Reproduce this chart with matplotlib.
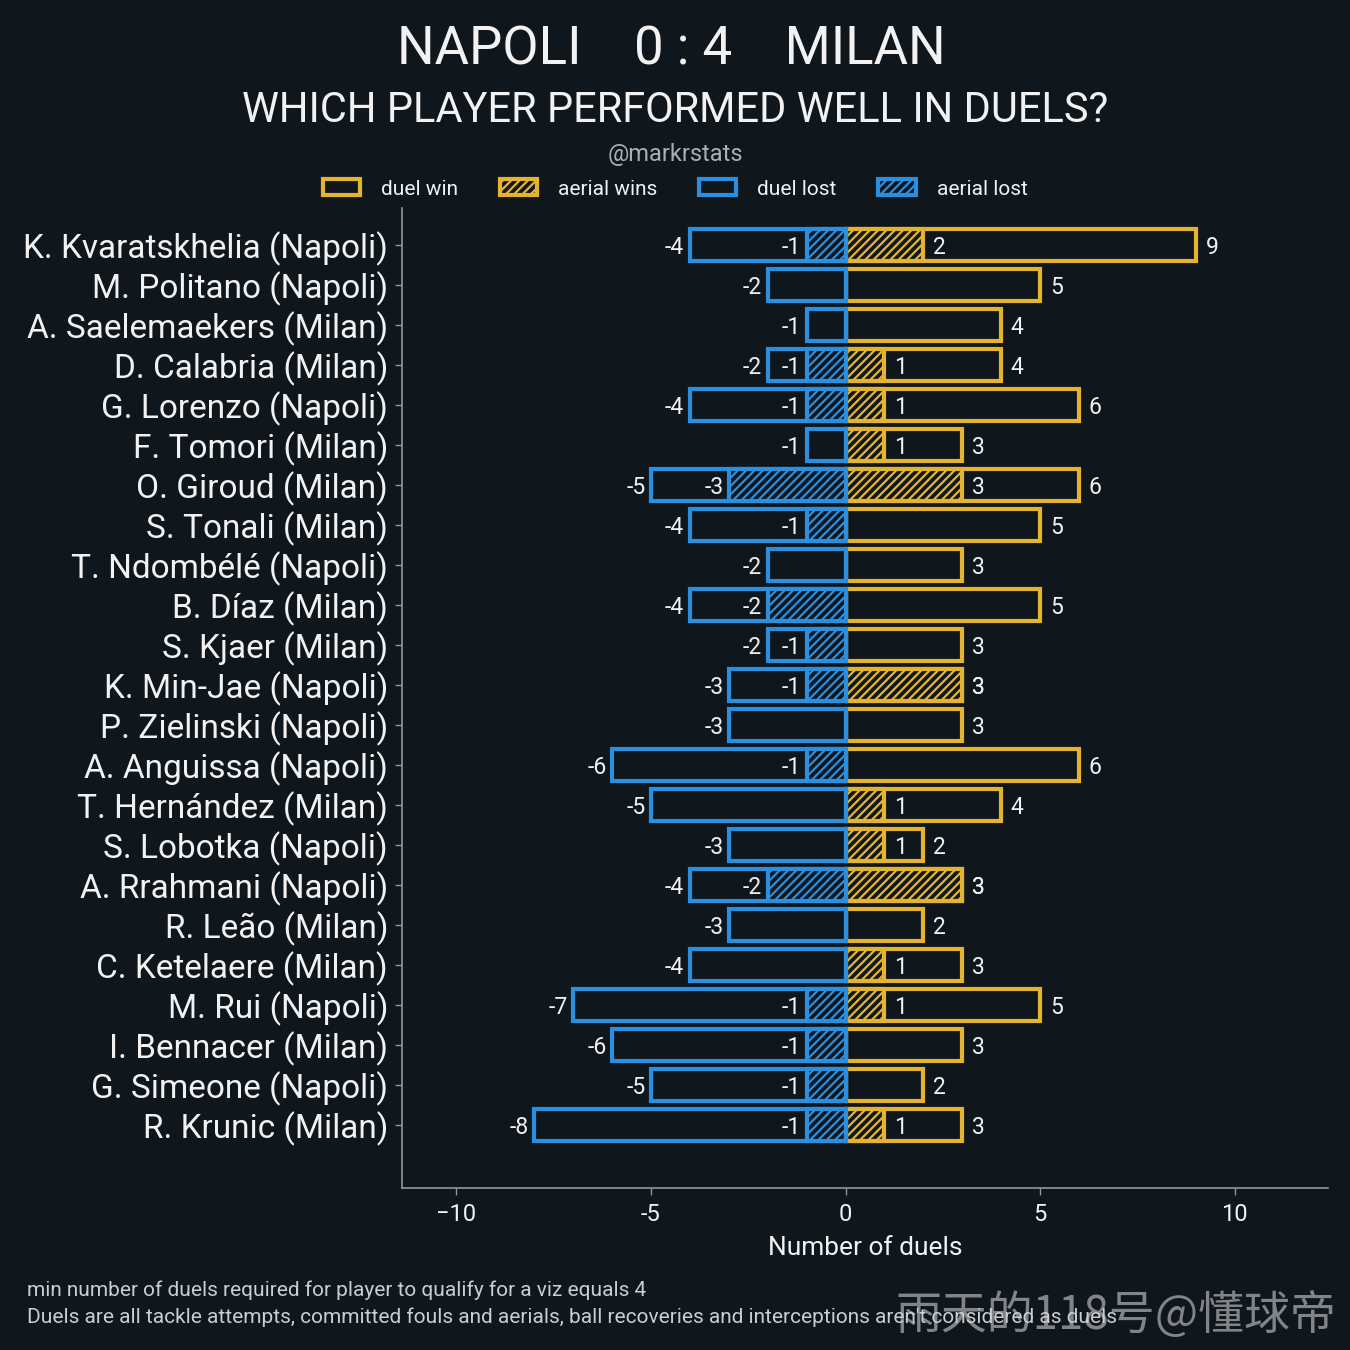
import numpy as np
import matplotlib.pyplot as plt
from matplotlib.patches import Patch

# datos (de arriba hacia abajo)
players = ["K. Kvaratskhelia (Napoli)", "M. Politano (Napoli)", "A. Saelemaekers (Milan)",
           "D. Calabria (Milan)", "G. Lorenzo (Napoli)", "F. Tomori (Milan)",
           "O. Giroud (Milan)", "S. Tonali (Milan)", "T. Ndombélé (Napoli)",
           "B. Díaz (Milan)", "S. Kjaer (Milan)", "K. Min-Jae (Napoli)",
           "P. Zielinski (Napoli)", "A. Anguissa (Napoli)", "T. Hernández (Milan)",
           "S. Lobotka (Napoli)", "A. Rrahmani (Napoli)", "R. Leão (Milan)",
           "C. Ketelaere (Milan)", "M. Rui (Napoli)", "I. Bennacer (Milan)",
           "G. Simeone (Napoli)", "R. Krunic (Milan)"]
duel_win = [9, 5, 4, 4, 6, 3, 6, 5, 3, 5, 3, 3, 3, 6, 4, 2, 3, 2, 3, 5, 3, 2, 3]
aerial_win = [2, 0, 0, 1, 1, 1, 3, 0, 0, 0, 0, 3, 0, 0, 1, 1, 3, 0, 1, 1, 0, 0, 1]
duel_lost = [-4, -2, -1, -2, -4, -1, -5, -4, -2, -4, -2, -3, -3, -6, -5, -3, -4, -3, -4, -7, -6, -5, -8]
aerial_lost = [-1, 0, 0, -1, -1, 0, -3, -1, 0, -2, -1, -1, 0, -1, 0, 0, -2, 0, 0, -1, -1, -1, -1]

BG = '#0f161c'
GOLD = '#e4b430'
BLUE = '#2b8fdf'
GREY = '#8c9aa0'
TXT = '#f2f2f2'

plt.rcParams['font.family'] = ['Roboto', 'DejaVu Sans']
plt.rcParams['hatch.linewidth'] = 1.6

fig = plt.figure(figsize=(13.5, 13.5), dpi=100, facecolor=BG)
ax = fig.add_axes([402 / 1350, 1 - 1188 / 1350, (1328 - 402) / 1350, (1188 - 208) / 1350])
ax.set_facecolor(BG)

n = len(players)
y = np.arange(n)[::-1]
h = 0.8
lw = 3

ax.barh(y, duel_win, height=h, color=BG, edgecolor=GOLD, linewidth=lw)
ax.barh(y, aerial_win, height=h, color=BG, edgecolor=GOLD, linewidth=lw, hatch='////')
ax.barh(y, duel_lost, height=h, color=BG, edgecolor=BLUE, linewidth=lw)
ax.barh(y, aerial_lost, height=h, color=BG, edgecolor=BLUE, linewidth=lw, hatch='////')

fs_val = 16.5
for yi, dw, aw, dl, al in zip(y, duel_win, aerial_win, duel_lost, aerial_lost):
    ax.annotate(str(dw), (dw, yi), xytext=(7, 0), textcoords='offset points',
                ha='left', va='center_baseline', color=TXT, fontsize=fs_val)
    ax.annotate(str(dl), (dl, yi), xytext=(-4, 0), textcoords='offset points',
                ha='right', va='center_baseline', color=TXT, fontsize=fs_val)
    if aw != 0:
        ax.annotate(str(aw), (aw, yi), xytext=(7, 0), textcoords='offset points',
                    ha='left', va='center_baseline', color=TXT, fontsize=fs_val)
    if al != 0:
        ax.annotate(str(al), (al, yi), xytext=(-4, 0), textcoords='offset points',
                    ha='right', va='center_baseline', color=TXT, fontsize=fs_val)

ax.set_xlim(-11.4, 12.4)
ax.set_ylim(-1.575, n - 1 + 0.925)
ax.set_yticks(y)
ax.set_yticklabels(players, fontsize=24, color=TXT)
ax.set_xticks([-10, -5, 0, 5, 10])
ax.set_xticklabels(['\u221210', '-5', '0', '5', '10'], fontsize=17, color=TXT)
ax.tick_params(axis='both', colors=GREY, length=5, width=1)
ax.tick_params(axis='y', pad=5)
ax.tick_params(axis='x', pad=6)
for lab in ax.get_xticklabels() + ax.get_yticklabels():
    lab.set_color(TXT)
ax.set_xlabel('Number of duels', fontsize=19, color=TXT, labelpad=7)

for s in ['top', 'right']:
    ax.spines[s].set_visible(False)
for s in ['left', 'bottom']:
    ax.spines[s].set_color(GREY)
    ax.spines[s].set_linewidth(1.2)

# titulos
fig.text(0.497, 1 - 50 / 1350, 'NAPOLI    0 : 4    MILAN', ha='center', va='center',
         fontsize=38, color=TXT)
fig.text(0.5, 1 - 110 / 1350, 'WHICH PLAYER PERFORMED WELL IN DUELS?', ha='center',
         va='center', fontsize=30, color=TXT)
fig.text(0.5, 1 - 154 / 1350, '@markrstats', ha='center', va='center',
         fontsize=17, color='#a9b0b5')

handles = [Patch(facecolor=BG, edgecolor=GOLD, linewidth=lw, label='duel win'),
           Patch(facecolor=BG, edgecolor=GOLD, linewidth=lw, hatch='////', label='aerial wins'),
           Patch(facecolor=BG, edgecolor=BLUE, linewidth=lw, label='duel lost'),
           Patch(facecolor=BG, edgecolor=BLUE, linewidth=lw, hatch='////', label='aerial lost')]
leg = fig.legend(handles=handles, loc='center', bbox_to_anchor=(0.5, 1 - 189 / 1350),
                 ncol=4, frameon=False, fontsize=15, handlelength=1.8, handleheight=0.8,
                 columnspacing=2.0, handletextpad=1.0)
for t in leg.get_texts():
    t.set_color(TXT)

# notas al pie
fig.text(27 / 1350, 1 - 1290 / 1350, 'min number of duels required for player to qualify for a viz equals 4',
         ha='left', va='center', fontsize=15, color='#c9ced2')
fig.text(27 / 1350, 1 - 1317 / 1350,
         "Duels are all tackle attempts, committed fouls and aerials, ball recoveries and interceptions aren't considered as duels",
         ha='left', va='center', fontsize=15, color='#c9ced2')
fig.text(1336 / 1350, 1 - 1316 / 1350, '雨天的118号@懂球帝', ha='right', va='center',
         fontsize=33, color='#d0d0d0', alpha=0.6,
         family=['Noto Sans CJK SC', 'DejaVu Sans'])

fig.savefig('out.png', dpi=100, facecolor=BG)
